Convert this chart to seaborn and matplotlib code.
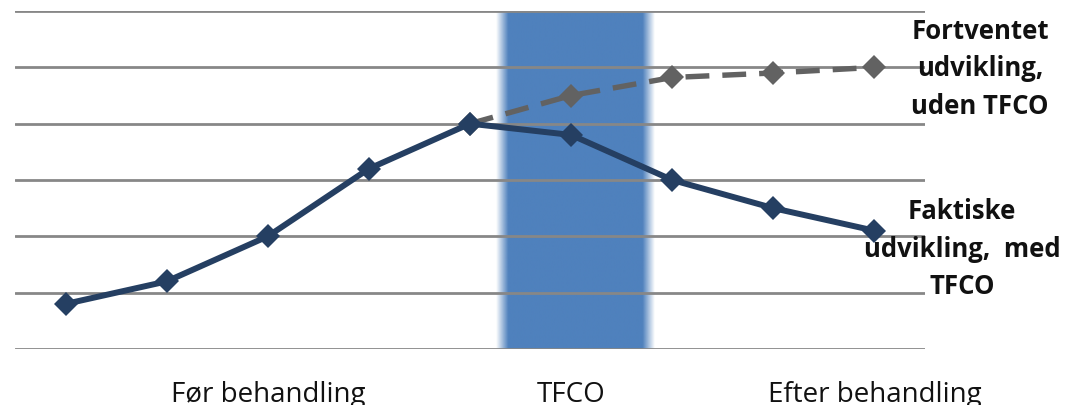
import numpy as np
import pandas as pd
import matplotlib
matplotlib.use("Agg")
import matplotlib.pyplot as plt
import seaborn as sns

# Phase labels shown under the axis, and the measurement points along it
phase_labels = ["Før behandling", "TFCO", "Efter behandling"]
phase_ticks = [2, 5, 8]
points = [0, 1, 2, 3, 4, 5, 6, 7, 8]

# Actual development, with TFCO
faktisk = [0.8, 1.2, 2.0, 3.2, 4.0, 3.8, 3.0, 2.5, 2.1]
# Expected development, without TFCO (branches off at the treatment start)
forventet_points = [4, 5, 6, 7, 8]
forventet = [4.0, 4.5, 4.82, 4.9, 5.0]

label_forventet = "Fortventet\nudvikling,\nuden TFCO"
label_faktisk = "Faktiske\nudvikling,  med\nTFCO"

df_faktisk = pd.DataFrame({"punkt": points, "værdi": faktisk})
df_forventet = pd.DataFrame({"punkt": forventet_points, "værdi": forventet})

sns.set_style("white")
plt.rcParams["font.family"] = ["Open Sans", "DejaVu Sans"]

fig = plt.figure(figsize=(10.75, 4.06), dpi=100)
ax = fig.add_axes([15 / 1075, 1 - 350 / 406, 910 / 1075, 338 / 406])

# TFCO treatment period as a blue band with softened edges
band_x0, band_x1 = 4.32, 5.77
ramp = 0.06
xs = np.linspace(band_x0 - ramp, band_x1 + ramp, 600)
alpha = np.clip(np.minimum(xs - (band_x0 - ramp), (band_x1 + ramp) - xs) / (2 * ramp), 0, 1)
rgba = np.zeros((1, xs.size, 4))
rgba[..., :3] = matplotlib.colors.to_rgb("#4F81BD")
rgba[..., 3] = alpha
ax.imshow(rgba, extent=[band_x0 - ramp, band_x1 + ramp, 0, 6], aspect="auto",
          interpolation="bilinear", zorder=0)

# Horizontal gridlines
ax.set_yticks(range(0, 7))
ax.yaxis.grid(True, color="#878787", linewidth=2.0)
ax.set_axisbelow(False)
for gl in ax.get_ygridlines():
    gl.set_zorder(1)
ax.tick_params(axis="y", left=False, labelleft=False)

sns.lineplot(data=df_forventet, x="punkt", y="værdi", ax=ax, color="#626262",
             linewidth=3.9, linestyle=(0, (4.4, 2.4)), marker="D", markersize=12,
             markeredgewidth=0, zorder=3)
sns.lineplot(data=df_faktisk, x="punkt", y="værdi", ax=ax, color="#253F62",
             linewidth=4.3, marker="D", markersize=12.5, markeredgewidth=0, zorder=4)

ax.set_xlim(-0.5, 8.5)
ax.set_ylim(0, 6)
ax.set_xticks(phase_ticks)
ax.set_xticklabels(phase_labels, fontsize=20, color="#111111")
ax.tick_params(axis="x", length=0, pad=22)
ax.set_xlabel("")
ax.set_ylabel("")
for s in ax.spines.values():
    s.set_visible(False)

# Series labels to the right of the plot
ax.text(1.0604, 0.832, label_forventet, transform=ax.transAxes, ha="center", va="center",
        fontsize=18.5, fontweight="bold", color="#111111", linespacing=1.5, clip_on=False)
ax.text(1.0407, 0.298, label_faktisk, transform=ax.transAxes, ha="center", va="center",
        fontsize=18.5, fontweight="bold", color="#111111", linespacing=1.5, clip_on=False)

fig.savefig("out.png", dpi=100)
